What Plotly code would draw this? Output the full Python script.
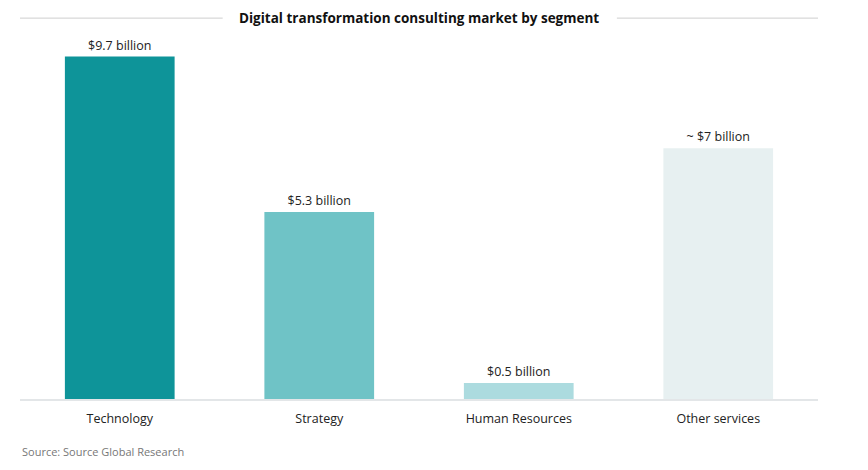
import plotly.graph_objects as go

# digital transformation consulting market, $bn (bar heights)
segments = ["Technology", "Strategy", "Human Resources", "Other services"]
values = [9.7, 5.3, 0.45, 7.1]
labels = ["$9.7 billion", "$5.3 billion", "$0.5 billion", "~ $7 billion"]
colors = ["#0e9499", "#6fc3c6", "#acdbdf", "#e7f0f1"]

fig = go.Figure()
fig.add_trace(go.Bar(
    x=segments, y=values, text=labels, textposition="outside",
    marker=dict(color=colors, line=dict(width=0)),
    textfont=dict(size=12.5, color="#222222"),
    cliponaxis=False, width=0.55,
))

# title with rules either side
fig.add_annotation(text="<b>Digital transformation consulting market by segment</b>",
                   xref="paper", yref="paper", x=0.5, y=1.079, showarrow=False,
                   font=dict(size=13.5, color="#111111"), yanchor="middle")
fig.add_shape(type="line", xref="paper", yref="paper", x0=0, x1=0.254, y0=1.079, y1=1.079,
              line=dict(color="#cfcfcf", width=1))
fig.add_shape(type="line", xref="paper", yref="paper", x0=0.748, x1=1, y0=1.079, y1=1.079,
              line=dict(color="#cfcfcf", width=1))
fig.add_annotation(text="Source: Source Global Research", xref="paper", yref="paper",
                   x=0, y=-0.15, xanchor="left", yanchor="middle", showarrow=False,
                   font=dict(size=11, color="#777777"))

fig.update_layout(
    width=860, height=462,
    margin=dict(l=12, r=50, t=38, b=71),
    paper_bgcolor="white", plot_bgcolor="white",
    font=dict(family="Open Sans", color="#222222"),
    showlegend=False,
    xaxis=dict(showline=True, linecolor="#e3e6e8", linewidth=1.5, ticks="",
               ticklabelstandoff=7,
               tickfont=dict(size=12.5, color="#222222")),
    yaxis=dict(range=[0, 10], visible=False),
)
fig.write_html("out.html")
